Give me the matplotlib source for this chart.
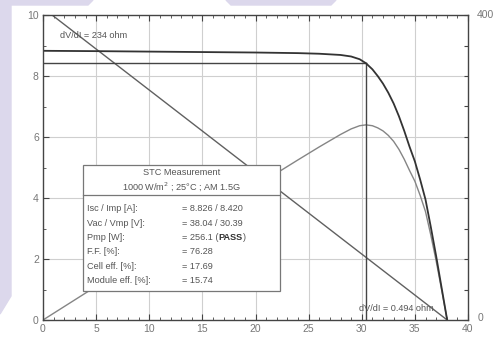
import matplotlib
matplotlib.use("Agg")
import matplotlib.pyplot as plt
from matplotlib.patches import Rectangle, Polygon
from matplotlib.ticker import MultipleLocator

volt = [0, 5, 10, 15, 20, 24, 26, 28, 29, 29.8, 30.39, 31, 31.5, 32, 32.5,
        33, 33.5, 34, 34.5, 35, 35.5, 36, 36.5, 37, 37.5, 38.04]
curr = [8.826, 8.815, 8.80, 8.785, 8.77, 8.75, 8.73, 8.69, 8.64, 8.55, 8.42,
        8.22, 8.0, 7.75, 7.45, 7.1, 6.68, 6.2, 5.68, 5.2, 4.6, 3.95, 3.05,
        2.1, 1.09, 0.0]
power = [0, 44.1, 88.0, 131.8, 175.4, 210.0, 227.0, 243.3, 250.6, 254.8,
         255.9, 254.8, 252.0, 248.0, 242.1, 234.3, 223.8, 210.8, 196.0,
         182.0, 163.3, 142.2, 111.3, 77.7, 40.9, 0]

# tangent near Voc and the MPP marker
tan_v = [0.85, 38.04]
tan_i = [10.0, 0.0]
vmp, imp = 30.39, 8.42

box_rows = ["Isc / Imp [A]:", "Vac / Vmp [V]:", "Pmp [W]:", "F.F. [%]:",
            "Cell eff. [%]:", "Module eff. [%]:"]
box_vals = ["= 8.826 / 8.420", "= 38.04 / 30.39", "= 256.1 (", "= 76.28",
            "= 17.69", "= 15.74"]

plt.rcParams['font.family'] = ['Liberation Sans', 'DejaVu Sans']
txt = '#555555'
edge = '#444444'
fs = 6.6

fig = plt.figure(figsize=(5, 3.39), dpi=100)
fig.patch.set_facecolor('white')

# lavender decoration behind the chart
lav = '#dcd8ec'
def px(pts):
    return [(x / 500, 1 - y / 339) for x, y in pts]
fig.patches.append(Polygon(px([(0, 0), (11, 0), (11, 296), (0, 314)]),
                           closed=True, transform=fig.transFigure,
                           color=lav, zorder=0))
fig.patches.append(Polygon(px([(0, 0), (93, 0), (88, 5), (0, 5)]),
                           closed=True, transform=fig.transFigure,
                           color=lav, zorder=0))
fig.patches.append(Polygon(px([(226, 0), (336, 0), (331, 5), (231, 5)]),
                           closed=True, transform=fig.transFigure,
                           color=lav, zorder=0))

ax = fig.add_axes([43 / 500, 1 - 320 / 339, 425 / 500, 305 / 339])
ax.set_xlim(0, 40)
ax.set_ylim(0, 10)

for x in range(5, 40, 5):
    ax.axvline(x, color='#cfcfcf', lw=0.8, zorder=1)
for y in range(2, 10, 2):
    ax.axhline(y, color='#cfcfcf', lw=0.8, zorder=1)

ax.plot(tan_v, tan_i, color='#606060', lw=1.0, zorder=2)
ax.plot(volt, [p / 40 for p in power], color='#858585', lw=1.0, zorder=2)
ax.plot([0, vmp], [imp, imp], color=edge, lw=1.0, zorder=2)
ax.plot([vmp, vmp], [0, imp], color=edge, lw=1.0, zorder=2)
ax.plot(volt, curr, color='#333333', lw=1.3, zorder=2)

# info box
ax.add_patch(Rectangle((3.8, 0.95), 18.5, 4.13, facecolor='white',
                       edgecolor='#777777', lw=0.9, zorder=3))
ax.plot([3.8, 22.3], [4.1, 4.1], color='#777777', lw=0.9, zorder=4)
ax.text(13.05, 4.82, "STC Measurement", ha='center', va='center',
        fontsize=fs, color=txt, zorder=5)
ax.text(13.05, 4.36, "1000 W/m$^2$ ; 25°C ; AM 1.5G", ha='center',
        va='center', fontsize=fs, color=txt, zorder=5)
row_y = [3.67, 3.18, 2.72, 2.26, 1.77, 1.28]
for lab, val, y in zip(box_rows, box_vals, row_y):
    ax.text(4.1, y, lab, ha='left', va='center', fontsize=fs, color=txt,
            zorder=5)
    t = ax.text(13.1, y, val, ha='left', va='center', fontsize=fs, color=txt,
                zorder=5)
    if val.endswith('('):
        t2 = ax.annotate("PASS", xy=(1, 0), xycoords=t, ha='left',
                         va='bottom', fontsize=fs, fontweight='bold',
                         color='#333333', zorder=5)
        ax.annotate(")", xy=(1, 0), xycoords=t2, ha='left', va='bottom',
                    fontsize=fs, color=txt, zorder=5)

ax.text(1.6, 9.25, "dV/dI = 234 ohm", fontsize=fs, color=txt, zorder=5)
ax.text(29.7, 0.3, "dV/dI = 0.494 ohm", fontsize=fs, color=txt, zorder=5)

ax.xaxis.set_major_locator(MultipleLocator(5))
ax.xaxis.set_minor_locator(MultipleLocator(1))
ax.yaxis.set_major_locator(MultipleLocator(2))
ax.yaxis.set_minor_locator(MultipleLocator(1))
ax.tick_params(which='both', direction='in', top=True, bottom=True,
               left=True, right=False, color=edge, labelsize=7.5,
               labelcolor='#777777', pad=3)
ax.tick_params(which='major', length=4)
ax.tick_params(which='minor', length=2.5)
for s in ax.spines.values():
    s.set_color(edge)
    s.set_linewidth(1.0)

ax2 = ax.twinx()
ax2.set_ylim(0, 400)
ax2.yaxis.set_major_locator(MultipleLocator(40))
ax2.set_yticklabels([])
ax2.tick_params(direction='in', length=3, color=edge)
for s in ax2.spines.values():
    s.set_visible(False)
ax.text(1.02, 1.0, "400", transform=ax.transAxes, fontsize=7.5,
        color='#777777', va='center', ha='left')
ax.text(1.022, 0.005, "0", transform=ax.transAxes, fontsize=7.5,
        color='#777777', va='center', ha='left')

fig.savefig("out.png", dpi=100)
